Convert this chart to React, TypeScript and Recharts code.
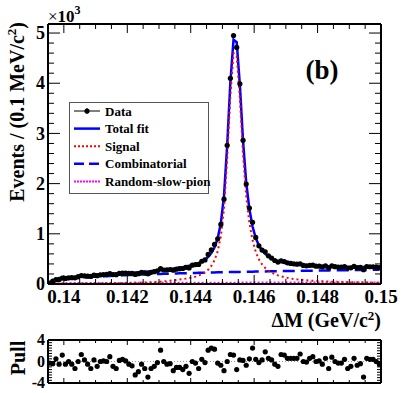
import React from 'react';
import { ComposedChart, Line, Scatter, XAxis, YAxis, ReferenceLine } from 'recharts';

const FONT = '"Liberation Serif", "Times New Roman", serif';

// axis ticks
const X_DOMAIN = [0.1395, 0.15];
const X_MAJOR = [0.14, 0.142, 0.144, 0.146, 0.148, 0.15];
const X_LABELS = ['0.14', '0.142', '0.144', '0.146', '0.148', '0.15'];
const X_MINOR = [0.1395, 0.14, 0.1405, 0.141, 0.1415, 0.142, 0.1425, 0.143, 0.1435, 0.144, 0.1445, 0.145,
  0.1455, 0.146, 0.1465, 0.147, 0.1475, 0.148, 0.1485, 0.149, 0.1495, 0.15];
const Y_MAJOR = [0, 1000, 2000, 3000, 4000, 5000];
const Y_LABELS = ['0', '1', '2', '3', '4', '5'];
const Y_MINOR = [0, 200, 400, 600, 800, 1000, 1200, 1400, 1600, 1800, 2000, 2200, 2400, 2600, 2800, 3000,
  3200, 3400, 3600, 3800, 4000, 4200, 4400, 4600, 4800, 5000];
const PULL_MAJOR = [-4, 0, 4];
const PULL_LABELS = ['-4', '0', '4'];
const PULL_MINOR = [-4, -3.5, -3, -2.5, -2, -1.5, -1, -0.5, 0, 0.5, 1, 1.5, 2, 2.5, 3, 3.5, 4];

// 105 bins of 0.1 MeV/c2 from 0.1395 to 0.1500
const BIN_LOW = 0.1395;
const BIN_WIDTH = 0.0001;

const DATA = [
  20, 59, 87, 91, 119, 111, 124, 126, 123, 145, 167, 160, 156, 150, 176, 165, 181, 187, 190, 209,
  187, 185, 210, 218, 217, 214, 212, 191, 205, 231, 223, 202, 233, 245, 262, 307, 279, 280, 289, 275,
  296, 305, 309, 332, 320, 376, 388, 389, 453, 480, 589, 678, 789, 900, 1186, 1690, 2764, 4097, 4950, 4713,
  3988, 2862, 1990, 1512, 1229, 928, 761, 676, 643, 562, 516, 468, 436, 463, 446, 421, 410, 401, 394, 403,
  371, 363, 372, 375, 355, 355, 343, 360, 323, 361, 345, 337, 336, 348, 317, 322, 350, 326, 330, 284,
  349, 344, 344, 337, 327,
];

const TOTAL_FIT = [
  21, 62, 82, 96, 107, 116, 124, 132, 138, 145, 151, 156, 162, 167, 172, 177, 181, 186, 190, 196,
  200, 203, 207, 212, 216, 221, 224, 229, 234, 239, 243, 248, 254, 259, 265, 272, 279, 288, 296, 305,
  315, 325, 336, 349, 362, 376, 394, 416, 445, 484, 540, 616, 727, 909, 1210, 1761, 2764, 4015, 4866, 4817,
  3969, 2851, 2022, 1493, 1144, 916, 767, 668, 599, 548, 509, 479, 455, 436, 421, 409, 398, 389, 382, 376,
  371, 365, 361, 358, 355, 353, 352, 349, 347, 346, 345, 343, 342, 341, 341, 339, 339, 339, 337, 337,
  338, 337, 337, 337, 336,
];

const SIGNAL = [
  0, 2, 3, 4, 5, 5, 6, 6, 7, 7, 8, 8, 9, 9, 10, 11, 11, 12, 13, 14,
  15, 16, 17, 18, 19, 21, 22, 24, 26, 28, 30, 33, 36, 39, 43, 47, 52, 58, 64, 72,
  80, 88, 97, 107, 118, 131, 147, 168, 195, 232, 285, 360, 470, 650, 950, 1500, 2500, 3750, 4600, 4550,
  3700, 2580, 1750, 1220, 870, 640, 490, 390, 320, 268, 228, 197, 172, 152, 136, 122, 110, 100, 92, 85,
  79, 73, 68, 64, 60, 57, 54, 51, 48, 46, 44, 42, 40, 38, 37, 35, 34, 33, 31, 30,
  29, 28, 27, 26, 25,
];

const COMBINATORIAL = [
  17, 50, 66, 77, 86, 94, 101, 108, 113, 119, 124, 129, 133, 138, 142, 145, 149, 153, 156, 160,
  163, 165, 168, 172, 174, 177, 179, 182, 185, 187, 189, 191, 194, 196, 198, 200, 202, 205, 207, 208,
  210, 212, 213, 216, 218, 219, 221, 222, 224, 226, 228, 229, 230, 232, 233, 234, 237, 238, 239, 240,
  241, 243, 244, 245, 246, 248, 249, 250, 251, 252, 253, 254, 255, 256, 257, 259, 260, 261, 262, 263,
  264, 264, 265, 266, 267, 268, 270, 270, 271, 272, 273, 273, 274, 275, 276, 276, 277, 278, 278, 279,
  281, 281, 282, 283, 283,
];

const RANDOM_SLOW_PION = [
  4, 10, 13, 15, 16, 17, 17, 18, 18, 19, 19, 19, 20, 20, 20, 21, 21, 21, 21, 22,
  22, 22, 22, 22, 23, 23, 23, 23, 23, 24, 24, 24, 24, 24, 24, 25, 25, 25, 25, 25,
  25, 25, 26, 26, 26, 26, 26, 26, 26, 26, 27, 27, 27, 27, 27, 27, 27, 27, 27, 27,
  28, 28, 28, 28, 28, 28, 28, 28, 28, 28, 28, 28, 28, 28, 28, 28, 28, 28, 28, 28,
  28, 28, 28, 28, 28, 28, 28, 28, 28, 28, 28, 28, 28, 28, 28, 28, 28, 28, 28, 28,
  28, 28, 28, 28, 28,
];

const PULL = [
  -0.3, -0.4, 0.5, -0.5, 1.2, -0.5, 0.0, -0.5, -1.3, 0.0, 1.3, 0.3, -0.5, -1.3, 0.3, -0.9, 0.0, 0.1, 0.0, 0.9,
  -0.9, -1.3, 0.2, 0.4, 0.1, -0.5, -0.8, -2.5, -1.9, -0.5, -1.3, -2.9, -1.3, -0.9, -0.2, 2.1, 0.0, -0.5, -0.4, -1.7,
  -1.1, -1.1, -1.5, -0.9, -2.2, 0.0, -0.3, -1.3, 0.4, -0.2, 2.1, 2.5, 2.3, -0.3, -0.7, -1.7, 0.0, 1.3, 1.2, -1.5,
  0.3, 0.2, -0.7, 0.5, 2.5, 0.4, -0.2, 0.3, 1.8, 0.6, 0.3, -0.5, -0.9, 1.3, 1.2, 0.6, 0.6, 0.6, 0.6, 1.4,
  0.0, -0.1, 0.6, 0.9, 0.0, 0.1, -0.5, 0.6, -1.3, 0.8, 0.0, -0.3, -0.3, 0.4, -1.3, -0.9, 0.6, -0.7, -0.4, -2.9,
  0.6, 0.4, 0.4, 0.0, -0.5,
];

const rows = DATA.map((v, i) => ({
  x: +(BIN_LOW + (i + 0.5) * BIN_WIDTH).toFixed(5),
  data: v,
  total: TOTAL_FIT[i],
  signal: SIGNAL[i],
  comb: COMBINATORIAL[i],
  rsp: RANDOM_SLOW_PION[i],
  pull: PULL[i],
}));

// ROOT-style inward ticks, drawn by hand on every side of the frame
const makeTick = (side: string, majors: number[], labels: string[] | null, majorLen: number, minorLen: number, fontSize = 17) =>
  (props: any) => {
    const { x, y, payload } = props;
    const idx = majors.findIndex((m) => Math.abs(m - payload.value) < 1e-7);
    const len = idx >= 0 ? majorLen : minorLen;
    let line;
    if (side === 'bottom') line = <line x1={x} x2={x} y1={y} y2={y - len} stroke="#000" strokeWidth={1} />;
    else if (side === 'top') line = <line x1={x} x2={x} y1={y} y2={y + len} stroke="#000" strokeWidth={1} />;
    else if (side === 'left') line = <line x1={x} x2={x + len} y1={y} y2={y} stroke="#000" strokeWidth={1} />;
    else line = <line x1={x} x2={x - len} y1={y} y2={y} stroke="#000" strokeWidth={1} />;
    let label = null;
    if (labels && idx >= 0) {
      if (side === 'bottom') {
        label = <text x={x} y={y + 19} textAnchor="middle" fontSize={fontSize} fontFamily={FONT} fontWeight="bold" fill="#000">{labels[idx]}</text>;
      } else if (side === 'left') {
        label = <text x={x - 3} y={y + fontSize * 0.34} textAnchor="end" fontSize={fontSize} fontFamily={FONT} fontWeight="bold" fill="#000">{labels[idx]}</text>;
      }
    }
    return <g>{line}{label}</g>;
  };

const frame = { stroke: '#000', strokeWidth: 2 };

// axes are 1px thick so they still render; the margins make up for that pixel
const MainPlot = () => (
  <ComposedChart width={415} height={328} data={rows} margin={{ top: 23, right: 33, bottom: 43, left: 47 }}>
    <XAxis dataKey="x" type="number" domain={X_DOMAIN} allowDataOverflow ticks={X_MINOR} interval={0}
      height={1} tickSize={0} tickMargin={0} tickLine={false} axisLine={frame}
      tick={makeTick('bottom', X_MAJOR, X_LABELS, 9, 5, 19)} />
    <XAxis xAxisId="top" orientation="top" dataKey="x" type="number" domain={X_DOMAIN} allowDataOverflow ticks={X_MINOR} interval={0}
      height={1} tickSize={0} tickMargin={0} tickLine={false} axisLine={frame}
      tick={makeTick('top', X_MAJOR, null, 9, 5)} />
    <YAxis type="number" domain={[0, 5180]} allowDataOverflow ticks={Y_MINOR} interval={0}
      width={1} tickSize={0} tickMargin={0} tickLine={false} axisLine={frame}
      tick={makeTick('left', Y_MAJOR, Y_LABELS, 12, 6, 18)} />
    <YAxis yAxisId="right" orientation="right" type="number" domain={[0, 5180]} allowDataOverflow ticks={Y_MINOR} interval={0}
      width={1} tickSize={0} tickMargin={0} tickLine={false} axisLine={frame}
      tick={makeTick('right', Y_MAJOR, null, 12, 6)} />
    <Line dataKey="rsp" type="linear" stroke="#ff00ff" strokeWidth={2} strokeDasharray="2 2" dot={false} isAnimationActive={false} />
    <Line dataKey="comb" type="linear" stroke="#0000ff" strokeWidth={2.5} strokeDasharray="12 6" dot={false} isAnimationActive={false} />
    <Line dataKey="total" type="linear" stroke="#0000ff" strokeWidth={2.5} dot={false} isAnimationActive={false} />
    <Line dataKey="signal" type="linear" stroke="#ff0000" strokeWidth={2} strokeDasharray="2 3" dot={false} isAnimationActive={false} />
    <Scatter dataKey="data" fill="#000" isAnimationActive={false}
      shape={(p: any) => <circle cx={p.cx} cy={p.cy} r={2.6} fill="#000" />} />
  </ComposedChart>
);

const PullPlot = () => (
  <ComposedChart width={415} height={63} data={rows} margin={{ top: 9, right: 33, bottom: 9, left: 47 }}>
    <XAxis dataKey="x" type="number" domain={X_DOMAIN} allowDataOverflow ticks={X_MINOR} interval={0}
      height={1} tickSize={0} tickMargin={0} tickLine={false} axisLine={frame}
      tick={makeTick('bottom', X_MAJOR, null, 5, 3)} />
    <XAxis xAxisId="top" orientation="top" dataKey="x" type="number" domain={X_DOMAIN} allowDataOverflow ticks={X_MINOR} interval={0}
      height={1} tickSize={0} tickMargin={0} tickLine={false} axisLine={frame}
      tick={makeTick('top', X_MAJOR, null, 5, 3)} />
    <YAxis type="number" domain={[-4, 4]} allowDataOverflow ticks={PULL_MINOR} interval={0}
      width={1} tickSize={0} tickMargin={0} tickLine={false} axisLine={frame}
      tick={makeTick('left', PULL_MAJOR, PULL_LABELS, 8, 4, 16)} />
    <YAxis yAxisId="right" orientation="right" type="number" domain={[-4, 4]} allowDataOverflow ticks={PULL_MINOR} interval={0}
      width={1} tickSize={0} tickMargin={0} tickLine={false} axisLine={frame}
      tick={makeTick('right', PULL_MAJOR, null, 8, 4)} />
    <ReferenceLine y={0} stroke="#999" strokeWidth={1} strokeDasharray="1 2" />
    <Scatter dataKey="pull" fill="#000" isAnimationActive={false}
      shape={(p: any) => <circle cx={p.cx} cy={p.cy} r={2.6} fill="#000" />} />
  </ComposedChart>
);

const LEGEND = [
  { label: 'Data', kind: 'data' },
  { label: 'Total fit', kind: 'total' },
  { label: 'Signal', kind: 'signal' },
  { label: 'Combinatorial', kind: 'comb' },
  { label: 'Random-slow-pion', kind: 'rsp' },
];

const LegendSample = ({ kind, y }: { kind: string; y: number }) => {
  if (kind === 'data') {
    return (
      <g>
        <line x1={74} x2={100} y1={y} y2={y} stroke="#000" strokeWidth={1} />
        <line x1={87} x2={87} y1={y - 3} y2={y + 3} stroke="#000" strokeWidth={1} />
        <circle cx={87} cy={y} r={2.6} fill="#000" />
      </g>
    );
  }
  if (kind === 'total') return <line x1={74} x2={100} y1={y} y2={y} stroke="#0000ff" strokeWidth={2.5} />;
  if (kind === 'signal') return <line x1={74} x2={100} y1={y} y2={y} stroke="#ff0000" strokeWidth={2} strokeDasharray="2 2" />;
  if (kind === 'comb') return <line x1={74} x2={100} y1={y} y2={y} stroke="#0000ff" strokeWidth={2.5} strokeDasharray="10 5" />;
  return <line x1={74} x2={100} y1={y} y2={y} stroke="#ff00ff" strokeWidth={2} strokeDasharray="2 1" />;
};

const Overlay = () => (
  <svg width={415} height={393} style={{ position: 'absolute', left: 0, top: 0, pointerEvents: 'none' }}
    fontFamily={FONT} fontWeight="bold">
    <text x={48} y={22} fontSize={17}><tspan fontWeight="normal">×</tspan>10<tspan dy={-8} fontSize={12}>3</tspan></text>
    <text transform="translate(24,22) rotate(-90)" textAnchor="end" fontSize={20}>
      Events / (0.1 MeV/c<tspan dy={-8} fontSize={13}>2</tspan><tspan dy={8}>)</tspan>
    </text>
    <text x={381} y={327} textAnchor="end" fontSize={20}>
      ΔM (GeV/c<tspan dy={-7} fontSize={13}>2</tspan><tspan dy={7}>)</tspan>
    </text>
    <text x={322} y={79} textAnchor="middle" fontSize={27}>(b)</text>
    <text transform="translate(25,358) rotate(-90)" textAnchor="middle" fontSize={20}>Pull</text>
    <rect x={69.5} y={102.5} width={139} height={91} fill="#fff" stroke="#555" strokeWidth={1} />
    {LEGEND.map((e, i) => {
      const cy = 111 + i * 17.6;
      return (
        <g key={e.label}>
          <LegendSample kind={e.kind} y={cy} />
          <text x={105} y={cy + 4.5} fontSize={13}>{e.label}</text>
        </g>
      );
    })}
  </svg>
);

export default function App() {
  return (
    <div style={{ position: 'absolute', left: 0, top: 0, width: 415, height: 393, background: '#fff', fontFamily: FONT }}>
      <div style={{ position: 'absolute', left: 0, top: 0 }}>
        <MainPlot />
      </div>
      <div style={{ position: 'absolute', left: 0, top: 330 }}>
        <PullPlot />
      </div>
      <Overlay />
    </div>
  );
}
